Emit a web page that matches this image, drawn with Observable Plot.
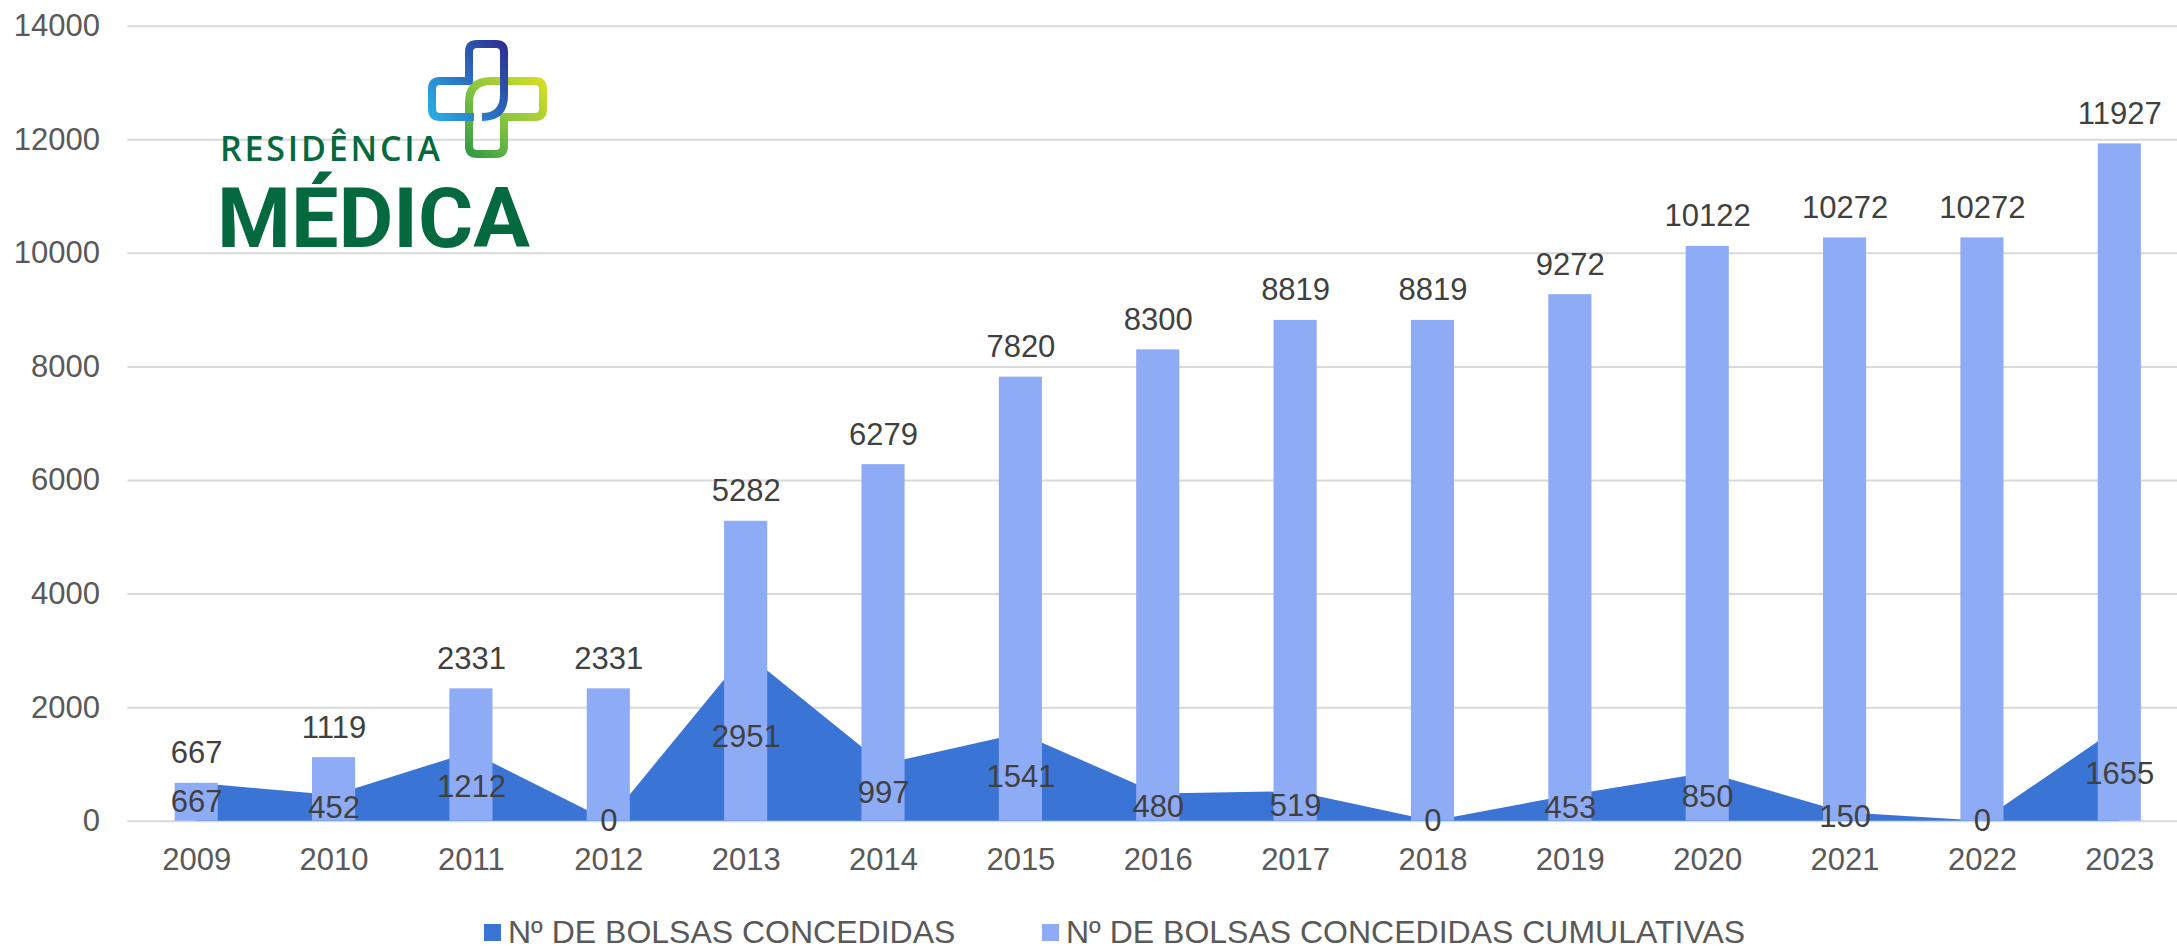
<!DOCTYPE html>
<html>
<head>
<meta charset="utf-8">
<script src="https://cdn.jsdelivr.net/npm/d3@7"></script>
<script src="https://cdn.jsdelivr.net/npm/@observablehq/plot@0.6"></script>
<style>
  html, body { margin: 0; padding: 0; background: #fff; overflow: hidden; }
  #wrap { position: relative; width: 2177px; height: 946px; font-family: "Liberation Sans", Arial, sans-serif; }
  #chart svg { display: block; }
  #legend { position: relative; width: 2177px; height: 46px; }
  .lg-sw { position: absolute; top: 24px; width: 17px; height: 17px; }
  .lg-tx { position: absolute; top: 16px; font-size: 32px; line-height: 32px; color: #595959; white-space: nowrap; }
  #logo { position: absolute; left: 0; top: 0; pointer-events: none; }
</style>
</head>
<body>
<div id="wrap">
  <div id="chart"></div>
  <div id="legend"></div>
  <svg id="logo" width="2177" height="946" xmlns="http://www.w3.org/2000/svg">
    <defs>
      <linearGradient id="gBlue" gradientUnits="userSpaceOnUse" x1="428" y1="110" x2="508" y2="50">
        <stop offset="0" stop-color="#29abe2"/>
        <stop offset="0.5" stop-color="#2a6fc0"/>
        <stop offset="1" stop-color="#2e3192"/>
      </linearGradient>
      <linearGradient id="gGreen" gradientUnits="userSpaceOnUse" x1="545" y1="80" x2="470" y2="158">
        <stop offset="0" stop-color="#d7df23"/>
        <stop offset="0.5" stop-color="#8cc63f"/>
        <stop offset="1" stop-color="#2e9a47"/>
      </linearGradient>
    </defs>
    <path d="M491 81 H535 Q543 81 543 89 V109 Q543 117 535 117 H504 V146 Q504 154 496 154 H477 Q469 154 469 146 V103 Q469 81 491 81" fill="none" stroke="url(#gGreen)" stroke-width="8" stroke-linejoin="round"/>
    <path d="M474 117 H440 Q432 117 432 109 V89 Q432 81 440 81 H469 V52 Q469 44 477 44 H496 Q504 44 504 52 V95 Q504 117 482 117" fill="none" stroke="url(#gBlue)" stroke-width="8" stroke-linejoin="round"/>
    <text x="220" y="161" font-family="'Open Sans', 'DejaVu Sans', sans-serif" font-size="34" font-weight="600" fill="#05693f" textLength="220" lengthAdjust="spacing">RESIDÊNCIA</text>
    <text x="217" y="247" font-family="Roboto, 'Open Sans', sans-serif" font-size="84" font-weight="700" fill="#05693f" textLength="313" lengthAdjust="spacingAndGlyphs">MÉDICA</text>
  </svg>
</div>
<script>
// ---- data ----
const years = [2009, 2010, 2011, 2012, 2013, 2014, 2015, 2016, 2017, 2018, 2019, 2020, 2021, 2022, 2023];
const annual = [667, 452, 1212, 0, 2951, 997, 1541, 480, 519, 0, 453, 850, 150, 0, 1655];
const cumulative = [667, 1119, 2331, 2331, 5282, 6279, 7820, 8300, 8819, 8819, 9272, 10122, 10272, 10272, 11927];
const yTicks = [0, 2000, 4000, 6000, 8000, 10000, 12000, 14000];
const seriesNames = ["Nº DE BOLSAS CONCEDIDAS", "Nº DE BOLSAS CONCEDIDAS CUMULATIVAS"];
const seriesColors = ["#3a75d6", "#8eabf5"];

const data = years.map((year, i) => ({ year, annual: annual[i], cum: cumulative[i] }));
const barHalf = 0.157;
const fs = 31;

const chart = Plot.plot({
  width: 2177,
  height: 900,
  marginLeft: 127.5,
  marginRight: 0,
  marginTop: 25.7,
  marginBottom: 79.3,
  x: { type: "linear", domain: [2008.5, 2023.42] },
  y: { domain: [0, 14000] },
  style: { fontFamily: "'Liberation Sans', Arial, sans-serif", color: "#595959", background: "#ffffff" },
  marks: [
    Plot.gridY(yTicks, { stroke: "#d9d9d9", strokeOpacity: 1, strokeWidth: 2 }),
    Plot.areaY(data, { x: "year", y: "annual", fill: seriesColors[0] }),
    Plot.rectY(data, { x1: d => d.year - barHalf, x2: d => d.year + barHalf, y: "cum", fill: seriesColors[1] }),
    Plot.axisY(yTicks, { tickSize: 0, tickPadding: 28, fontSize: fs, label: null, tickFormat: d => String(d), fill: "#595959" }),
    Plot.axisX(years, { tickSize: 0, tickPadding: 27, fontSize: fs, label: null, tickFormat: d => String(d), fill: "#595959" }),
    Plot.text(data, { x: "year", y: "cum", text: d => String(d.cum), lineAnchor: "bottom", dy: -20, fontSize: fs, fill: "#404040" }),
    Plot.text(data, { x: "year", y: d => d.annual / 2, text: d => String(d.annual), lineAnchor: "middle", fontSize: fs, fill: "#404040" })
  ]
});
document.getElementById("chart").appendChild(chart);

// legend
const legend = document.getElementById("legend");
const legendLeft = [484, 1042];
seriesNames.forEach((name, i) => {
  const sw = document.createElement("div");
  sw.className = "lg-sw";
  sw.style.left = legendLeft[i] + "px";
  sw.style.background = seriesColors[i];
  legend.appendChild(sw);
  const tx = document.createElement("div");
  tx.className = "lg-tx";
  tx.style.left = (legendLeft[i] + 24) + "px";
  tx.textContent = name;
  legend.appendChild(tx);
});
</script>
</body>
</html>
